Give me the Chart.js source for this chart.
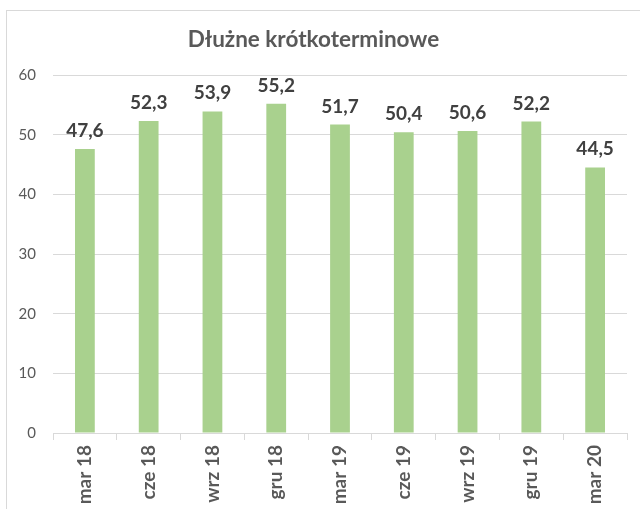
<!DOCTYPE html>
<html>
<head>
<meta charset="utf-8">
<script src="https://cdn.jsdelivr.net/npm/chart.js@4"></script>
<style>
  html, body { margin: 0; padding: 0; background: #fff; }
  #wrap { position: relative; width: 640px; height: 509px; overflow: hidden; }
  #frame { position: absolute; left: 6px; top: 10px; width: 700px; height: 600px; border: 1px solid #d9d9d9; box-sizing: border-box; }
  canvas { position: absolute; left: 0; top: 0; }
</style>
</head>
<body>
<div id="wrap">
  <div id="frame"></div>
  <canvas id="c" width="640" height="509"></canvas>
</div>
<script>
const categories = ["mar 18", "cze 18", "wrz 18", "gru 18", "mar 19", "cze 19", "wrz 19", "gru 19", "mar 20"];
const values = [47.6, 52.3, 53.9, 55.2, 51.7, 50.4, 50.6, 52.2, 44.5];
const titleText = "Dłużne krótkoterminowe";
const FONT = "Lato, 'Open Sans', sans-serif";

const dataLabels = {
  id: 'dataLabels',
  afterDatasetsDraw(chart) {
    const ctx = chart.ctx;
    const meta = chart.getDatasetMeta(0);
    ctx.save();
    ctx.font = "bold 19px " + FONT;
    ctx.fillStyle = "#404040";
    ctx.textAlign = "center";
    ctx.textBaseline = "alphabetic";
    meta.data.forEach((bar, i) => {
      const txt = values[i].toFixed(1).replace('.', ',');
      ctx.fillText(txt, bar.x, bar.y - 12);
    });
    ctx.restore();
  }
};

new Chart(document.getElementById('c'), {
  type: 'bar',
  data: {
    labels: categories,
    datasets: [{
      data: values,
      backgroundColor: '#A9D18E',
      borderWidth: 0,
      categoryPercentage: 1,
      barPercentage: 0.31
    }]
  },
  options: {
    responsive: false,
    animation: false,
    layout: { padding: { left: 0, right: 13, top: 0, bottom: 0 } },
    plugins: {
      legend: { display: false },
      tooltip: { enabled: false },
      title: {
        display: true,
        text: titleText,
        color: '#595959',
        font: { family: FONT, size: 22.5, weight: 'bold' },
        padding: { top: 26, bottom: 22 }
      }
    },
    scales: {
      x: {
        grid: { display: true, drawOnChartArea: false, drawTicks: true, tickLength: 7, color: '#d9d9d9', offset: true },
        border: { display: true, color: '#d9d9d9' },
        ticks: {
          color: '#595959',
          font: { family: FONT, size: 19, weight: 'bold' },
          minRotation: 90, maxRotation: 90, autoSkip: false, padding: 5
        },
        afterFit(scale) { scale.height = 76; }
      },
      y: {
        min: 0, max: 60,
        grid: { color: '#d9d9d9', drawTicks: false },
        border: { display: false },
        ticks: {
          stepSize: 10,
          color: '#595959',
          font: { family: FONT, size: 15 },
          padding: 17
        },
        afterFit(scale) { scale.width = 53; }
      }
    }
  },
  plugins: [dataLabels]
});
</script>
</body>
</html>
